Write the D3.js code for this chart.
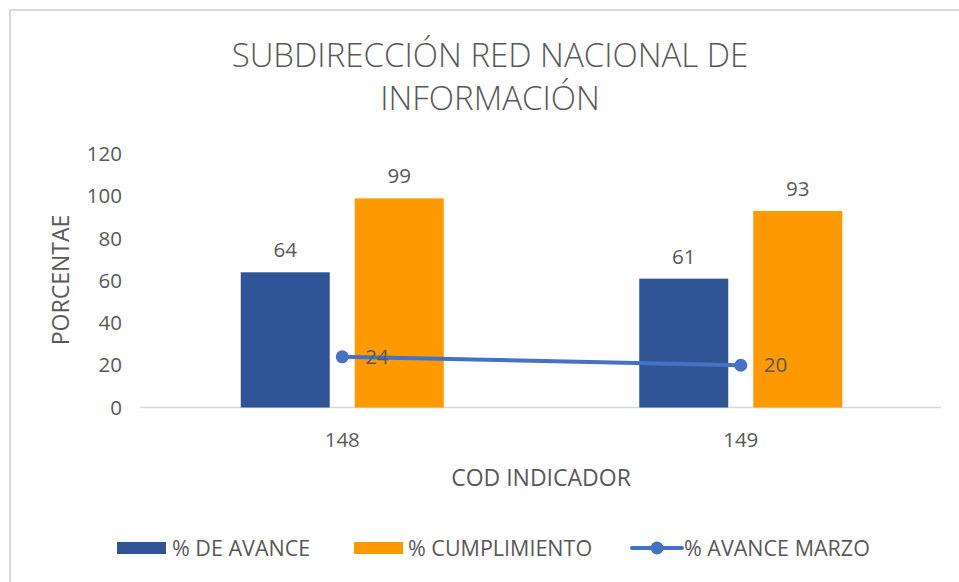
<!DOCTYPE html>
<html>
<head>
<meta charset="utf-8">
<script src="https://cdn.jsdelivr.net/npm/d3@7"></script>
<style>
  html, body { margin: 0; padding: 0; background: #fff; }
  text { font-family: "Open Sans", Lato, sans-serif; fill: #595959; }
</style>
</head>
<body>
<svg id="chart" width="959" height="582"></svg>
<script>
const categories = ["148", "149"];
const avance = [64, 61];
const cumplimiento = [99, 93];
const avanceMarzo = [24, 20];
const yTicks = [0, 20, 40, 60, 80, 100, 120];
const titleLines = ["SUBDIRECCIÓN RED NACIONAL DE", "INFORMACIÓN"];

const colors = { avance: "#2F5597", cumplimiento: "#FF9900", marzo: "#4472C4" };

const svg = d3.select("#chart");

// chart frame
svg.append("rect")
  .attr("x", 10).attr("y", 10)
  .attr("width", 1000).attr("height", 1000)
  .attr("fill", "none").attr("stroke", "#d9d9d9").attr("stroke-width", 2);

const plot = { left: 140, right: 941, top: 154, bottom: 407.5 };

const x = d3.scaleBand().domain(categories).range([143, 940]);
const y = d3.scaleLinear().domain([0, 120]).range([plot.bottom, plot.top]);

const barW = 89, barGap = 25;
const offsets = { avance: -(barGap / 2 + barW / 2), cumplimiento: barGap / 2 + barW / 2 };
const cx = c => x(c) + x.bandwidth() / 2;

// title
svg.append("g").selectAll("text").data(titleLines).join("text")
  .attr("x", 490).attr("y", (d, i) => 67 + i * 43)
  .attr("text-anchor", "middle")
  .attr("font-size", 33).attr("font-weight", 300)
  .text(d => d);

// y axis labels
svg.append("g").selectAll("text").data(yTicks).join("text")
  .attr("x", 122).attr("y", d => y(d) + 7)
  .attr("text-anchor", "end").attr("font-size", 20.5)
  .text(d => d);

// baseline
svg.append("line")
  .attr("x1", plot.left).attr("x2", plot.right)
  .attr("y1", y(0)).attr("y2", y(0))
  .attr("stroke", "#d9d9d9").attr("stroke-width", 1.5);

// bars
const series = [
  { key: "avance", values: avance },
  { key: "cumplimiento", values: cumplimiento }
];
series.forEach(s => {
  const g = svg.append("g");
  g.selectAll("rect").data(categories).join("rect")
    .attr("x", (c) => cx(c) + offsets[s.key] - barW / 2)
    .attr("y", (c, i) => y(s.values[i]))
    .attr("width", barW)
    .attr("height", (c, i) => y(0) - y(s.values[i]))
    .attr("fill", colors[s.key]);
  g.selectAll("text").data(categories).join("text")
    .attr("x", c => cx(c) + offsets[s.key])
    .attr("y", (c, i) => y(s.values[i]) - 15)
    .attr("text-anchor", "middle").attr("font-size", 20.5)
    .text((c, i) => s.values[i]);
});

// line series
const line = d3.line().x(d => cx(d.c)).y(d => y(d.v));
const pts = categories.map((c, i) => ({ c, v: avanceMarzo[i] }));
svg.append("path").datum(pts)
  .attr("d", line).attr("fill", "none")
  .attr("stroke", colors.marzo).attr("stroke-width", 4).attr("stroke-linecap", "round");
svg.append("g").selectAll("circle").data(pts).join("circle")
  .attr("cx", d => cx(d.c)).attr("cy", d => y(d.v)).attr("r", 6.5)
  .attr("fill", colors.marzo);
svg.append("g").selectAll("text").data(pts).join("text")
  .attr("x", d => cx(d.c) + 23).attr("y", d => y(d.v) + 7)
  .attr("font-size", 20.5)
  .text(d => d.v);

// category labels
svg.append("g").selectAll("text").data(categories).join("text")
  .attr("x", c => cx(c)).attr("y", 447)
  .attr("text-anchor", "middle").attr("font-size", 20.5)
  .text(d => d);

// axis titles
svg.append("text")
  .attr("x", 541).attr("y", 486)
  .attr("text-anchor", "middle").attr("font-size", 23)
  .text("COD INDICADOR");
svg.append("text")
  .attr("transform", "translate(69,280) rotate(-90)")
  .attr("text-anchor", "middle").attr("font-size", 23)
  .text("PORCENTAE");

// legend
const legend = svg.append("g");
legend.append("rect").attr("x", 117).attr("y", 542).attr("width", 49).attr("height", 12).attr("fill", colors.avance);
legend.append("text").attr("x", 172).attr("y", 556).attr("font-size", 21.5).text("% DE AVANCE");
legend.append("rect").attr("x", 354).attr("y", 542).attr("width", 49).attr("height", 12).attr("fill", colors.cumplimiento);
legend.append("text").attr("x", 408).attr("y", 556).attr("font-size", 21.5).text("% CUMPLIMIENTO");
legend.append("line").attr("x1", 632).attr("x2", 682).attr("y1", 548).attr("y2", 548)
  .attr("stroke", colors.marzo).attr("stroke-width", 4).attr("stroke-linecap", "round");
legend.append("circle").attr("cx", 657).attr("cy", 548).attr("r", 6.5).attr("fill", colors.marzo);
legend.append("text").attr("x", 684).attr("y", 556).attr("font-size", 21.5).text("% AVANCE MARZO");
</script>
</body>
</html>
